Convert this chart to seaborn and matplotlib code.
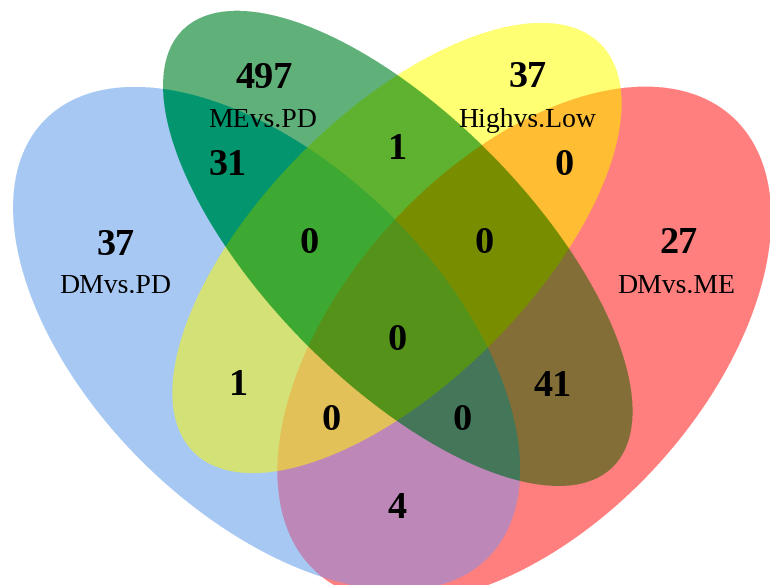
import numpy as np
import matplotlib
matplotlib.use("Agg")
import matplotlib.pyplot as plt
import seaborn as sns

# four-set venn: DMvs.PD (A), MEvs.PD (B), Highvs.Low (C), DMvs.ME (D)
set_names = ["DMvs.PD", "MEvs.PD", "Highvs.Low", "DMvs.ME"]
# region codes: bit0=A, bit1=B, bit2=C, bit3=D
region_codes = [1, 2, 3, 4, 5, 6, 7, 8, 9, 10, 11, 12, 13, 14, 15]
region_counts = [37, 497, 31, 37, 1, 1, 0, 27, 4, 41, 0, 0, 0, 0, 0]

# layout (pixel space, y down)
W, H = 770, 585
# centre x, centre y, semi axis 1, semi axis 2, angle
ellipses = [(266.6, 338.6, 311.5, 175.0, 44.6),
            (397.8, 248.4, 306.6, 132.6, 45.5),
            (397.0, 248.0, 288.2, 134.6, 134.9),
            (524.3, 344.4, 308.4, 179.8, -47.5)]
count_pos = {1: (116, 255), 2: (264, 88), 3: (228, 175), 4: (528, 87), 5: (239, 395),
             6: (398, 159), 7: (309, 253), 8: (678, 253), 9: (397, 518), 10: (553, 396),
             11: (462, 430), 12: (564, 175), 13: (331, 430), 14: (484, 253), 15: (397, 350)}
name_pos = [(115, 293), (263, 127), (527, 127), (676, 293)]

region_colors = [(255, 255, 255), (166, 200, 244), (96, 176, 122), (3, 150, 110),
                 (255, 255, 115), (212, 225, 118), (95, 178, 47), (62, 168, 50),
                 (255, 127, 127), (189, 136, 183), (131, 110, 56), (68, 118, 90),
                 (255, 189, 52), (226, 194, 88), (120, 143, 0), (85, 147, 27)]

# rasterise the overlap regions (3x supersampled for smooth edges)
S = 3
xs = (np.arange(W*S) + 0.5) / S
ys = (np.arange(H*S) + 0.5) / S
X, Y = np.meshgrid(xs, ys)
code = np.zeros(X.shape, int)
for k, (cx, cy, a, b, ang) in enumerate(ellipses):
    t = np.radians(ang)
    dx, dy = X - cx, Y - cy
    u = dx*np.cos(t) + dy*np.sin(t)
    v = -dx*np.sin(t) + dy*np.cos(t)
    code += ((u/a)**2 + (v/b)**2 <= 1).astype(int) << k
lut = np.array(region_colors) / 255
img = lut[code].reshape(H, S, W, S, 3).mean(axis=(1, 3))

sns.set_style("white")
plt.rcParams['font.family'] = ['Liberation Serif', 'DejaVu Serif']

fig = plt.figure(figsize=(7.7, 5.85), dpi=100)
ax = fig.add_axes([0, 0, 1, 1])
ax.imshow(img, extent=(0, W, H, 0))

for c, n in zip(region_codes, region_counts):
    x, y = count_pos[c]
    ax.text(x, y, str(n), ha='center', va='baseline', fontsize=27.5, fontweight='bold', color='black')
for name, (x, y) in zip(set_names, name_pos):
    ax.text(x, y, name, ha='center', va='baseline', fontsize=20, color='black')

ax.set_xlim(0, W)
ax.set_ylim(H, 0)
ax.axis("off")
fig.savefig("out.png", dpi=100)
